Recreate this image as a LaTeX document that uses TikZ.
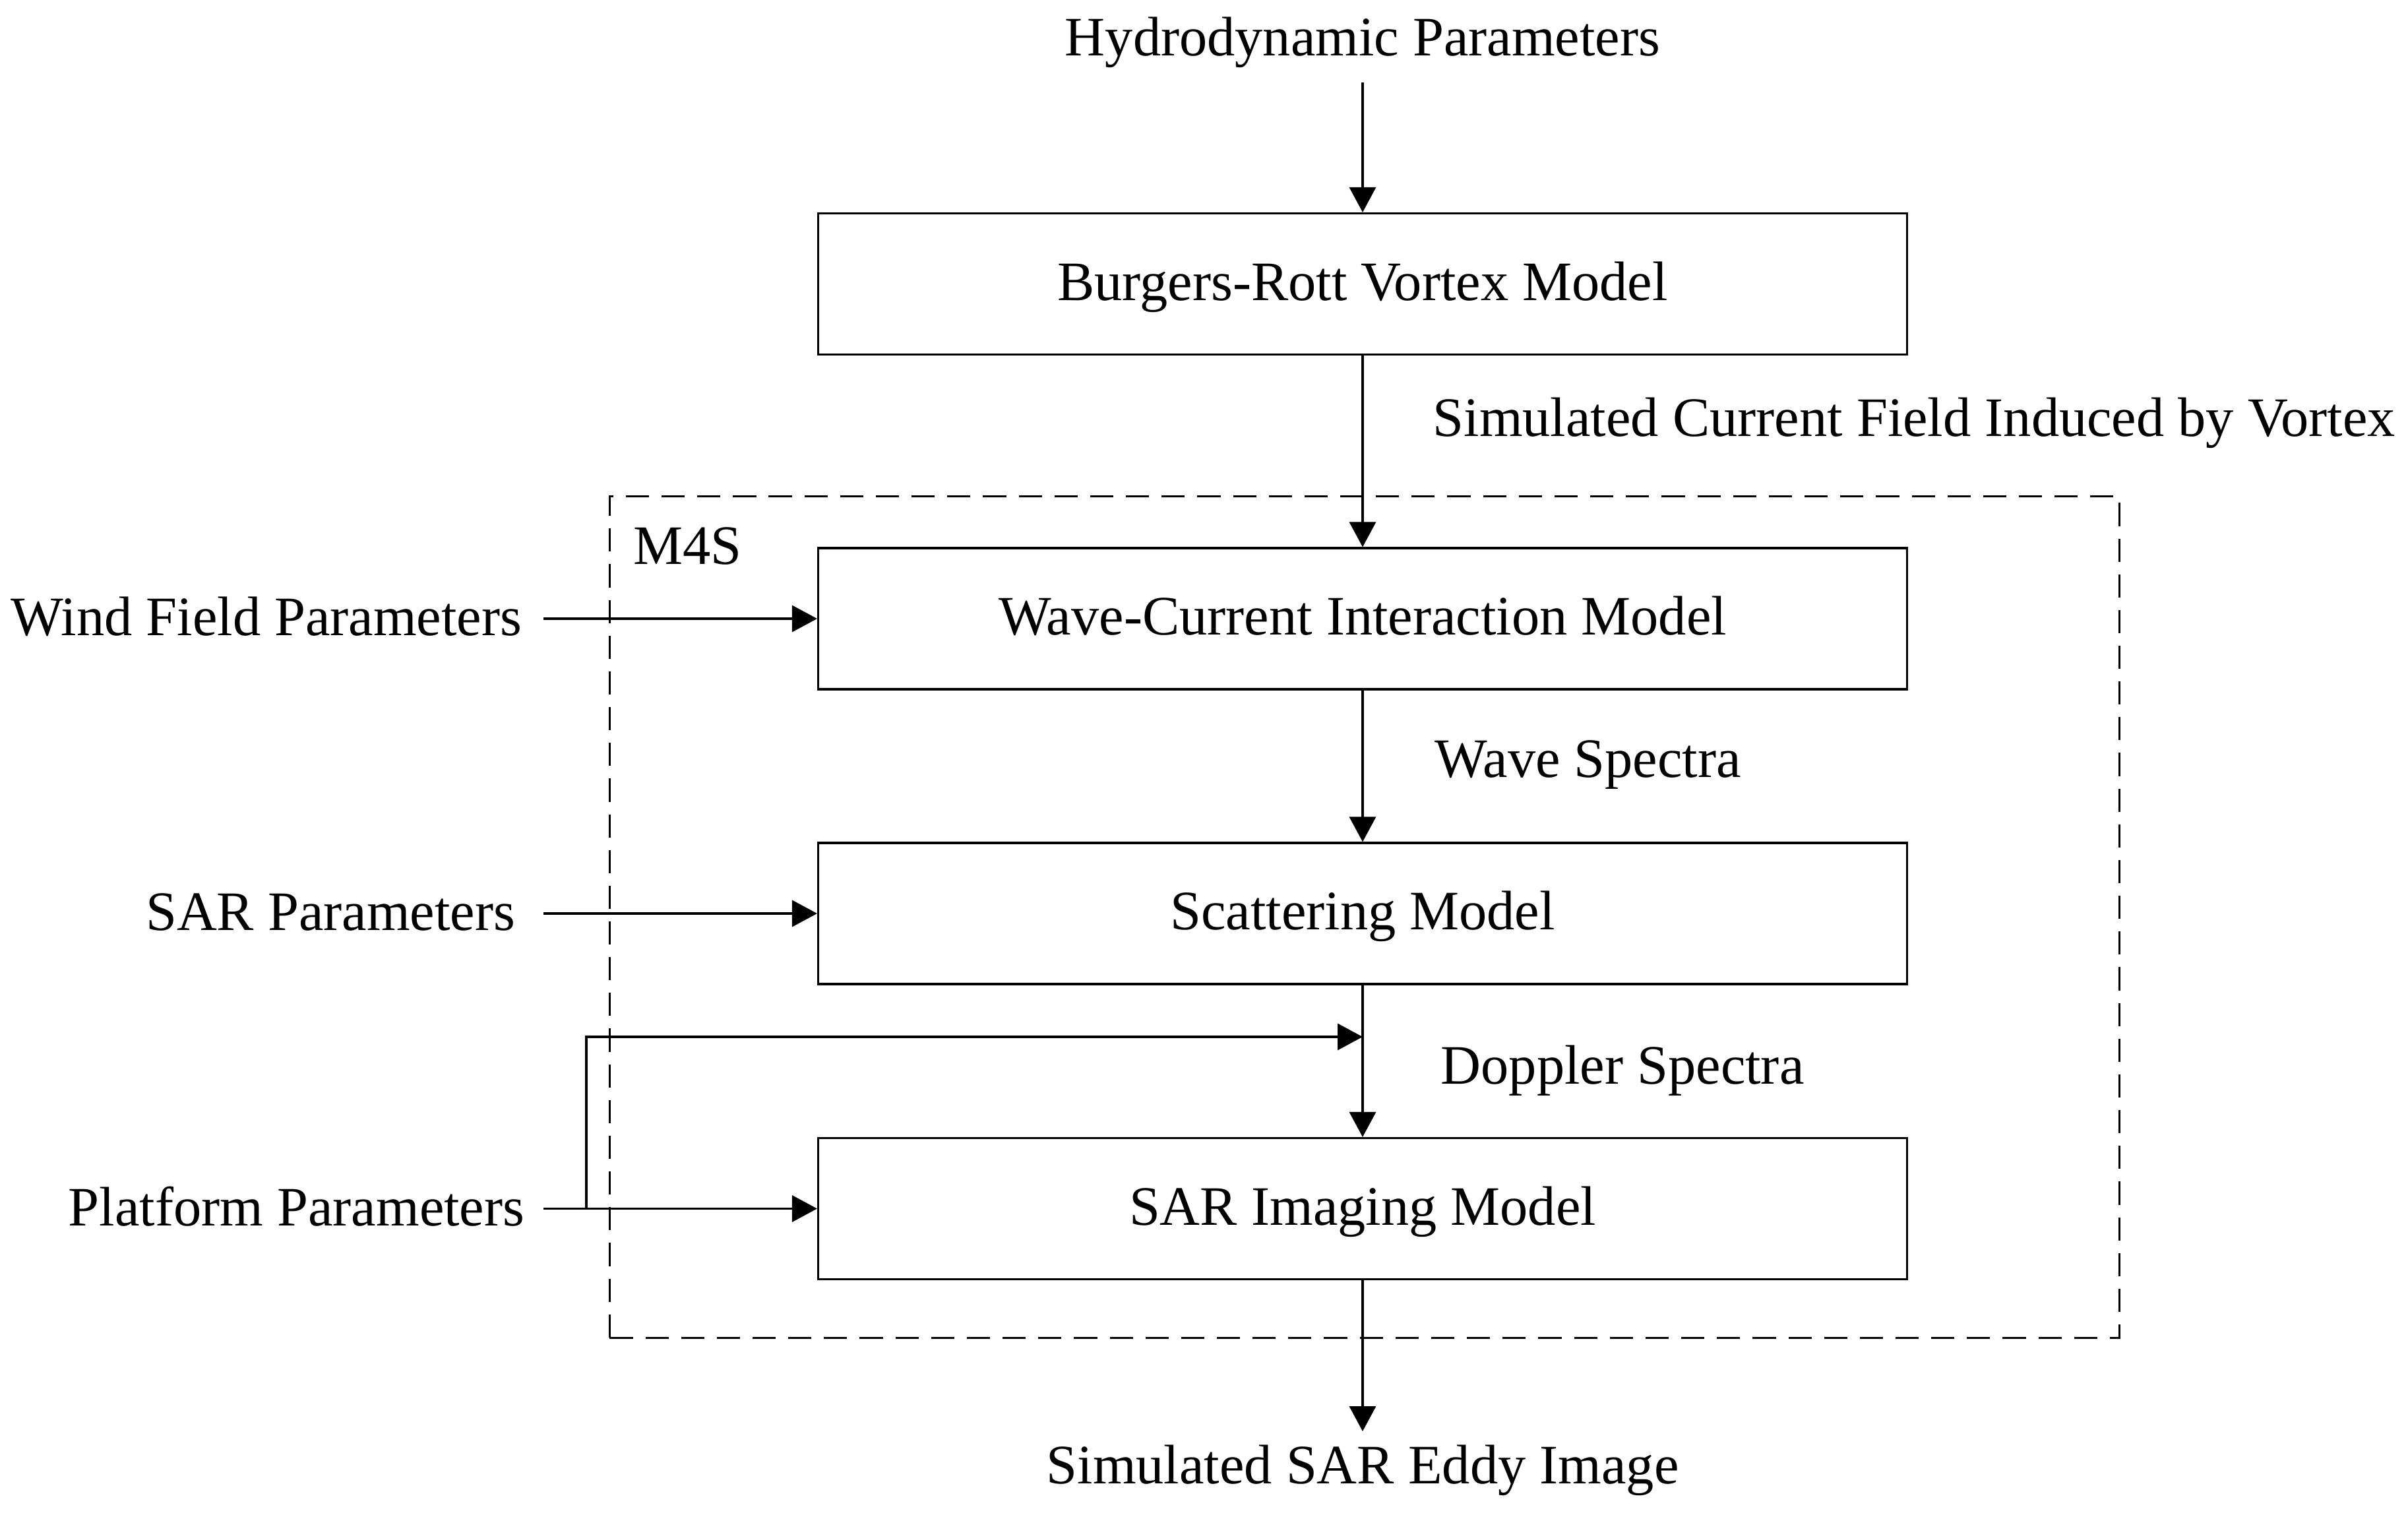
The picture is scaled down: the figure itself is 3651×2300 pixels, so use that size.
\documentclass[tikz,border=0pt]{standalone}
\usepackage{fontspec}
\setmainfont{Liberation Serif}
\usetikzlibrary{arrows.meta}
\begin{document}
\begin{tikzpicture}[x=0.01cm,y=-0.01cm,
  every node/.style={font=\fontsize{24}{28}\selectfont, inner sep=0pt},
  modelbox/.style={draw, line width=0.9pt, minimum width=16.5cm, minimum height=2.14cm, text height=17pt, text depth=3pt},
  groupbox/.style={draw, line width=0.9pt, dash pattern=on 10pt off 5.4pt, minimum width=22.88cm, minimum height=12.75cm},
  arr/.style={line width=0.9pt, -{Triangle[length=10.8pt, width=11.4pt]}},
  lbl/.style={anchor=base west},
  lblr/.style={anchor=base east}]
\useasboundingbox (0,0) rectangle (3651,2300);

\node[groupbox] (m4s) at (2069,1390.5) {};
\node[lbl] (m4slabel) at (960,855) {M4S};

\node[modelbox] (b1) at (2066,430.5) {Burgers-Rott Vortex Model};
\node[modelbox] (b2) at (2066,938) {Wave-Current Interaction Model};
\node[modelbox] (b3) at (2066,1385) {Scattering Model};
\node[modelbox] (b4) at (2066,1832.5) {SAR Imaging Model};

\node[anchor=base] (hydro) at (2066,85) {Hydrodynamic Parameters};
\node[anchor=base] (eddy) at (2066,2249) {Simulated SAR Eddy Image};
\node[lbl] (curr) at (2172,661) {Simulated Current Field Induced by Vortex};
\node[lbl] (wspec) at (2175,1178) {Wave Spectra};
\node[lbl] (dspec) at (2184,1643) {Doppler Spectra};
\node[lblr] (wind) at (792,963) {Wind Field Parameters};
\node[lblr] (sarp) at (782,1410) {SAR Parameters};
\node[lblr] (plat) at (796,1858) {Platform Parameters};

\coordinate (h0) at (2066,125);
\coordinate (out) at (2066,2170);
\coordinate (w0) at (824,938);
\coordinate (s0) at (824,1385);
\coordinate (p0) at (824,1832.5);
\coordinate (pj) at (889,1832.5);
\coordinate (dj) at (2066,1572);

\draw[arr] (h0) -- (b1.north);
\draw[arr] (b1.south) -- (b2.north);
\draw[arr] (b2.south) -- (b3.north);
\draw[arr] (b3.south) -- (b4.north);
\draw[arr] (b4.south) -- (out);
\draw[arr] (w0) -- (b2.west);
\draw[arr] (s0) -- (b3.west);
\draw[arr] (p0) -- (b4.west);
\draw[arr] (pj) |- (dj);
\end{tikzpicture}
\end{document}
